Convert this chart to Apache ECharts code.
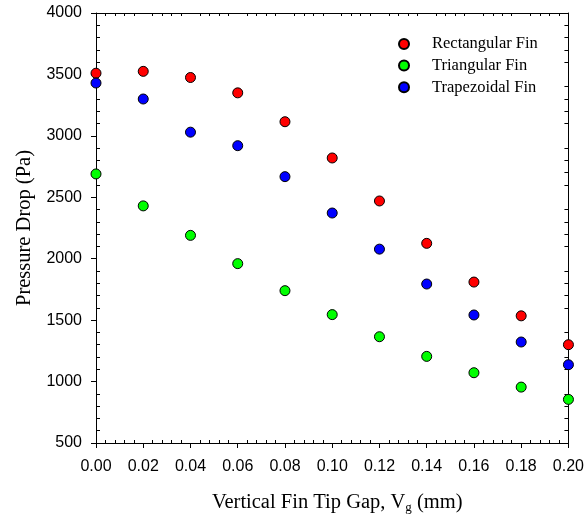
<!DOCTYPE html>
<html>
<head>
<meta charset="utf-8">
<script src="https://cdn.jsdelivr.net/npm/echarts@6/dist/echarts.min.js"></script>
<style>
html,body{margin:0;padding:0;background:#fff;}
#chart{width:587px;height:522px;}
</style>
</head>
<body>
<div id="chart"></div>
<script>
var gaps = [0.00, 0.02, 0.04, 0.06, 0.08, 0.10, 0.12, 0.14, 0.16, 0.18, 0.20];
var rectangular = [3510, 3525, 3475, 3350, 3115, 2820, 2470, 2125, 1810, 1535, 1300];
var triangular  = [2690, 2430, 2190, 1960, 1740, 1545, 1365, 1205, 1072, 955, 855];
var trapezoidal = [3430, 3300, 3030, 2920, 2668, 2372, 2078, 1794, 1542, 1322, 1137];
var seriesNames = ['Rectangular Fin', 'Triangular Fin', 'Trapezoidal Fin'];
var seriesColors = ['#ff0000', '#00ff00', '#0000ff'];

function pairs(vals) {
  return gaps.map(function (g, i) { return [g, vals[i]]; });
}

var serif = 'Liberation Serif, Times New Roman, serif';
var sans = 'Liberation Sans, Arial, sans-serif';
var lineStyle = { color: '#000', width: 1 };

function xAxisBase(extra) {
  var a = {
    type: 'value', min: 0, max: 0.2, interval: 0.02,
    splitLine: { show: false },
    axisLine: { show: false, lineStyle: lineStyle },
    axisTick: { show: false },
    axisLabel: { show: false },
    minorTick: { show: false }
  };
  for (var k in extra) a[k] = extra[k];
  return a;
}
function yAxisBase(extra) {
  var a = {
    type: 'value', min: 500, max: 4000, interval: 500,
    splitLine: { show: false },
    axisLine: { show: false, lineStyle: lineStyle },
    axisTick: { show: false },
    axisLabel: { show: false },
    minorTick: { show: false }
  };
  for (var k in extra) a[k] = extra[k];
  return a;
}

var chart = echarts.init(document.getElementById('chart'));
chart.setOption({
  animation: false,
  backgroundColor: '#fff',
  grid: { left: 96, right: 16, top: 13, bottom: 79 },
  legend: {
    orient: 'vertical',
    left: 393, top: 30,
    icon: 'circle',
    itemWidth: 10, itemHeight: 10,
    itemGap: 3.6,
    data: seriesNames,
    textStyle: { fontFamily: serif, fontSize: 16.5, color: '#000', lineHeight: 18, padding: [0, 0, 0, 18] }
  },
  xAxis: [
    xAxisBase({
      position: 'bottom',
      axisLine: { show: true, onZero: false, lineStyle: lineStyle },
      axisTick: { show: true, inside: false, length: 5, lineStyle: lineStyle },
      axisLabel: {
        show: true, margin: 16, color: '#000', fontFamily: sans, fontSize: 16,
        formatter: function (v) { return v.toFixed(2); }
      },
      name: 'Vertical Fin Tip Gap, V{sub|g} (mm)',
      nameLocation: 'middle',
      nameGap: 48,
      nameTextStyle: {
        fontFamily: serif, fontSize: 20.5, color: '#000', padding: [0, 0, 0, 10],
        rich: { sub: { fontFamily: serif, fontSize: 13, color: '#000', padding: [10, 0, 0, 0] } }
      }
    }),
    xAxisBase({
      position: 'bottom',
      axisTick: { show: false, inside: true },
      minorTick: { show: true, splitNumber: 5, length: 3, lineStyle: lineStyle }
    }),
    xAxisBase({
      position: 'top',
      axisLine: { show: true, onZero: false, lineStyle: lineStyle },
      axisTick: { show: false, inside: true },
      minorTick: { show: true, splitNumber: 5, length: 3, lineStyle: lineStyle }
    })
  ],
  yAxis: [
    yAxisBase({
      position: 'left',
      axisLine: { show: true, onZero: false, lineStyle: lineStyle },
      axisTick: { show: true, inside: false, length: 5, lineStyle: lineStyle },
      axisLabel: {
        show: true, margin: 14, color: '#000', fontFamily: sans, fontSize: 16,
        formatter: function (v) { return String(v); }
      },
      name: 'Pressure Drop (Pa)',
      nameLocation: 'middle',
      nameRotate: 90,
      nameGap: 59,
      nameTextStyle: { fontFamily: serif, fontSize: 20.5, color: '#000' }
    }),
    yAxisBase({
      position: 'left',
      axisTick: { show: false, inside: true },
      minorTick: { show: true, splitNumber: 5, length: 4, lineStyle: lineStyle }
    }),
    yAxisBase({
      position: 'right',
      axisLine: { show: true, onZero: false, lineStyle: lineStyle },
      axisTick: { show: false, inside: true },
      minorTick: { show: true, splitNumber: 5, length: 4, lineStyle: lineStyle }
    })
  ],
  series: [rectangular, triangular, trapezoidal].map(function (vals, i) {
    return {
      name: seriesNames[i],
      type: 'scatter',
      xAxisIndex: 0, yAxisIndex: 0,
      symbol: 'circle',
      symbolSize: 10,
      data: pairs(vals),
      itemStyle: { color: seriesColors[i], borderColor: '#000', borderWidth: 1, opacity: 1 },
      emphasis: { disabled: true }
    };
  })
});
</script>
</body>
</html>
